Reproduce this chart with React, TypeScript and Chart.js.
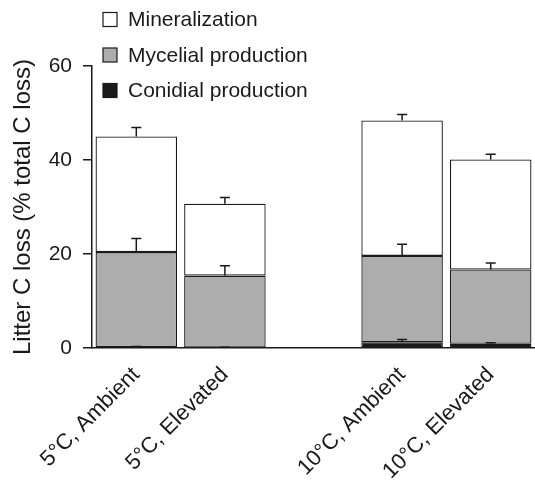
import React, { useEffect, useRef } from "react";
import { Chart, registerables } from "chart.js";

Chart.register(...registerables);

const categories = ["5°C, Ambient", "5°C, Elevated", "", "10°C, Ambient", "10°C, Elevated"];
const seriesNames = ["Conidial production", "Mycelial production", "Mineralization"];
const conidial = [0.2, 0.1, null, 1.2, 0.9];
const mycelial = [20.2, 15.3, null, 18.4, 15.8];
const mineralization = [24.6, 15.3, null, 28.8, 23.4];
const errConidial = [0.1, 0.05, null, 0.6, 0.2];
const errMycelial = [2.9, 2.1, null, 2.5, 1.4];
const errMineralization = [1.9, 1.3, null, 1.3, 1.1];
const yTicks = [0, 20, 40, 60];
const yTitle = "Litter C loss (% total C loss)";

const FONT = "'Liberation Sans', Arial, Helvetica, sans-serif";
const INK = "#1a1a1a";
const fills = ["#1a1a1a", "#adadad", "#ffffff"];

const errorBars = {
  id: "errorBars",
  afterDatasetsDraw(chart: any) {
    const errs = [errConidial, errMycelial, errMineralization];
    const y = chart.scales.y;
    const ctx = chart.ctx;
    ctx.save();
    ctx.strokeStyle = INK;
    ctx.lineWidth = 1.5;
    chart.data.datasets.forEach((ds: any, i: number) => {
      const meta = chart.getDatasetMeta(i);
      ds.data.forEach((v: any, j: number) => {
        if (v == null) return;
        let top = 0;
        for (let k = 0; k <= i; k++) top += (chart.data.datasets[k].data[j] as number) || 0;
        const e = errs[i][j] as number;
        if (!e) return;
        const x = meta.data[j].x;
        const y1 = y.getPixelForValue(top);
        const y2 = y.getPixelForValue(top + e);
        ctx.beginPath();
        ctx.moveTo(x, y1);
        ctx.lineTo(x, y2);
        ctx.moveTo(x - 5, y2);
        ctx.lineTo(x + 5, y2);
        ctx.stroke();
      });
    });
    ctx.restore();
  },
};

const boxLegend = {
  id: "boxLegend",
  afterDraw(chart: any) {
    const ctx = chart.ctx;
    ctx.save();
    ctx.font = `21px ${FONT}`;
    ctx.textBaseline = "middle";
    ctx.fillStyle = INK;
    const order = [2, 1, 0];
    order.forEach((di, r) => {
      const cy = 19.5 + r * 35.5;
      ctx.fillStyle = fills[di];
      ctx.fillRect(103, cy - 7, 14, 14);
      ctx.strokeStyle = INK;
      ctx.lineWidth = 1.2;
      ctx.strokeRect(103, cy - 7, 14, 14);
      ctx.fillStyle = INK;
      ctx.fillText(chart.data.datasets[di].label, 128, cy + 1);
    });
    ctx.restore();
  },
};

export default function App() {
  const ref = useRef<HTMLCanvasElement>(null);
  useEffect(() => {
    document.body.style.margin = "0";
    const vals = [conidial, mycelial, mineralization];
    const chart = new Chart(ref.current as HTMLCanvasElement, {
      type: "bar",
      data: {
        labels: categories,
        datasets: vals.map((d, i) => ({
          label: seriesNames[i],
          data: d as any,
          backgroundColor: fills[i],
          borderColor: INK,
          borderWidth: 1.3,
          borderSkipped: false,
          categoryPercentage: 1,
          barPercentage: 0.92,
        })),
      },
      options: {
        responsive: false,
        animation: false,
        devicePixelRatio: 1,
        layout: { padding: { top: 66, right: -3, left: 0, bottom: 0 } },
        plugins: { legend: { display: false }, tooltip: { enabled: false } },
        scales: {
          x: {
            stacked: true,
            grid: { display: false, drawTicks: false },
            border: { display: true, color: INK, width: 1.5 },
            ticks: {
              color: INK,
              font: { family: FONT, size: 22 },
              maxRotation: 45,
              minRotation: 45,
              padding: 14,
              autoSkip: false,
            },
            afterFit: (s: any) => {
              s.height = 134;
            },
          },
          y: {
            stacked: true,
            min: 0,
            max: 60,
            afterBuildTicks: (s: any) => {
              s.ticks = yTicks.map((v) => ({ value: v }));
            },
            grid: { display: true, drawOnChartArea: false, drawTicks: true, tickLength: 9, color: INK, lineWidth: 1.5 },
            border: { display: true, color: INK, width: 1.5 },
            ticks: { color: INK, font: { family: FONT, size: 21 }, padding: 11 },
            title: { display: true, text: yTitle, color: INK, font: { family: FONT, size: 24 }, padding: { top: 9, bottom: 0 } },
            afterFit: (s: any) => {
              s.width = 92;
            },
          },
        },
      },
      plugins: [errorBars, boxLegend],
    });
    return () => chart.destroy();
  }, []);
  return (
    <div style={{ position: "absolute", left: 0, top: 0, width: 535, height: 482, background: "#fff" }}>
      <canvas ref={ref} width={535} height={482} />
    </div>
  );
}
